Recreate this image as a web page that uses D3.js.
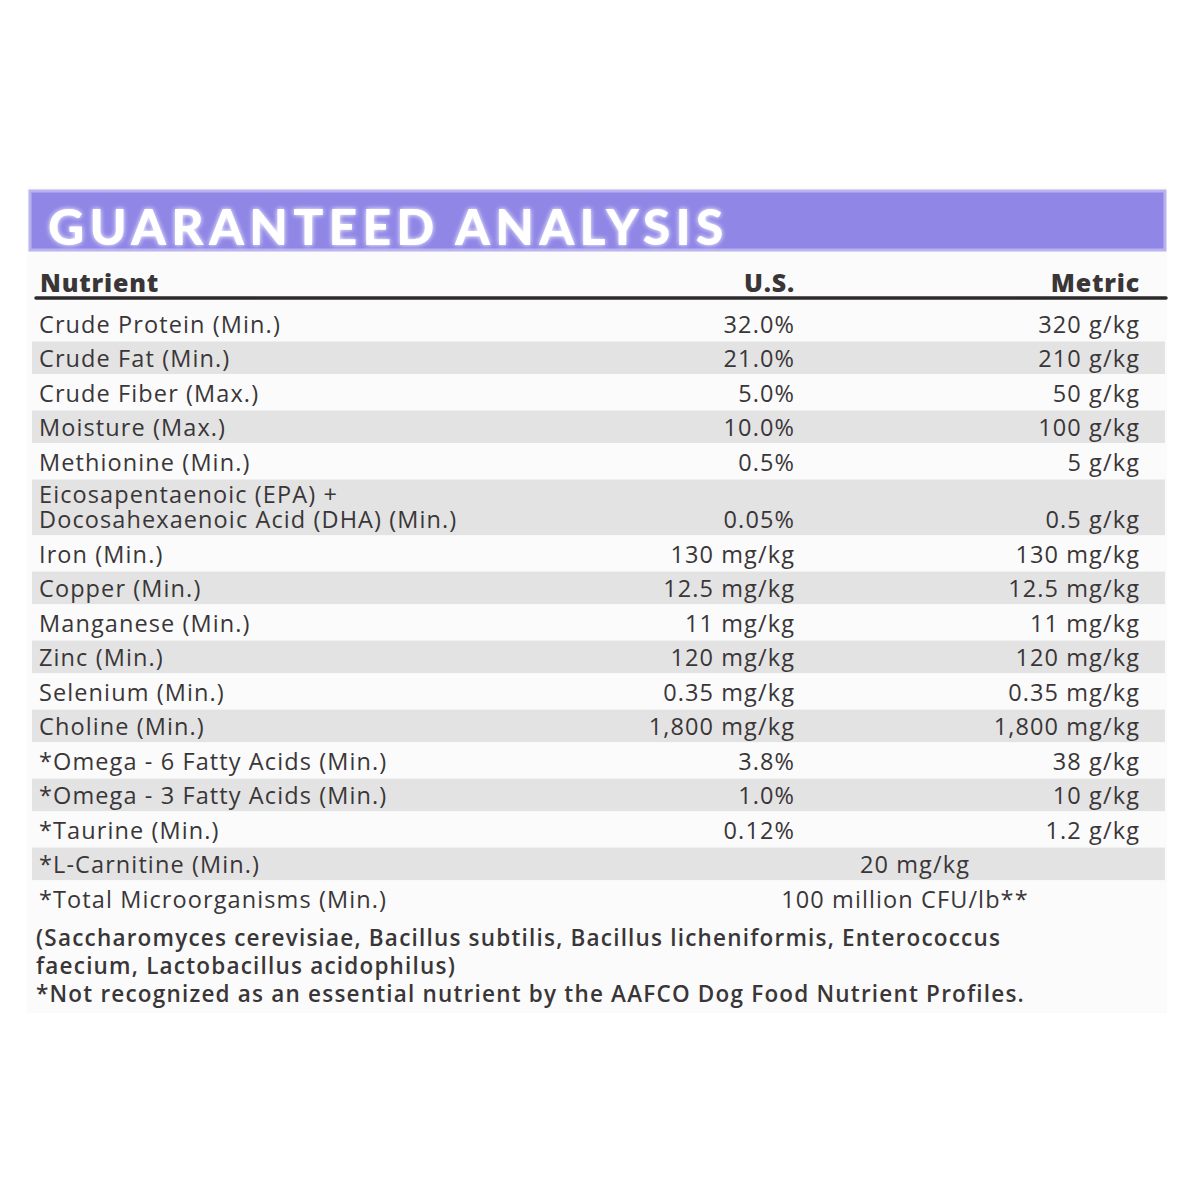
<!DOCTYPE html>
<html><head><meta charset="utf-8">
<script src="https://cdn.jsdelivr.net/npm/d3@7"></script>
<style>body{margin:0;background:#fff}</style>
</head><body>
<div id="chart"></div>
<script>
// table contents
const nutrients = ["Crude Protein (Min.)","Crude Fat (Min.)","Crude Fiber (Max.)","Moisture (Max.)","Methionine (Min.)",
  "Eicosapentaenoic (EPA) +|Docosahexaenoic Acid (DHA) (Min.)","Iron (Min.)","Copper (Min.)","Manganese (Min.)","Zinc (Min.)",
  "Selenium (Min.)","Choline (Min.)","*Omega - 6 Fatty Acids (Min.)","*Omega - 3 Fatty Acids (Min.)","*Taurine (Min.)",
  "*L-Carnitine (Min.)","*Total Microorganisms (Min.)"];
const usValues = ["32.0%","21.0%","5.0%","10.0%","0.5%","0.05%","130 mg/kg","12.5 mg/kg","11 mg/kg","120 mg/kg",
  "0.35 mg/kg","1,800 mg/kg","3.8%","1.0%","0.12%","",""];
const metricValues = ["320 g/kg","210 g/kg","50 g/kg","100 g/kg","5 g/kg","0.5 g/kg","130 mg/kg","12.5 mg/kg","11 mg/kg",
  "120 mg/kg","0.35 mg/kg","1,800 mg/kg","38 g/kg","10 g/kg","1.2 g/kg","",""];
const spanValues = ["","","","","","","","","","","","","","","","20 mg/kg","100 million CFU/lb**"];
const rowUnits = [1,1,1,1,1,1.67,1,1,1,1,1,1,1,1,1,1,1];
const footnotes = ["(Saccharomyces cerevisiae, Bacillus subtilis, Bacillus licheniformis, Enterococcus",
  "faecium, Lactobacillus acidophilus)",
  "*Not recognized as an essential nutrient by the AAFCO Dog Food Nutrient Profiles."];

const W = 1200, H = 1200;
const svg = d3.select("#chart").append("svg").attr("width", W).attr("height", H);
const font = "'Open Sans', sans-serif";
const ink = "#3a3638";

// panel
svg.append("rect").attr("x", 27).attr("y", 187).attr("width", 1140).attr("height", 826).attr("fill", "#fbfbfc");
svg.append("rect").attr("x", 30).attr("y", 191).attr("width", 1135).attr("height", 59)
  .attr("fill", "#8f86e6").attr("stroke", "#b9b3f0").attr("stroke-width", 3);
const defs = svg.append("defs");
const glow = defs.append("filter").attr("id", "glow");
glow.append("feGaussianBlur").attr("stdDeviation", 2.5).attr("result", "b");
const m = glow.append("feMerge");
m.append("feMergeNode").attr("in", "b");
m.append("feMergeNode").attr("in", "SourceGraphic");
svg.append("text").attr("x", 48).attr("y", 245).text("GUARANTEED ANALYSIS")
  .attr("font-family", "Lato, sans-serif").attr("font-weight", 900).attr("font-size", 50)
  .attr("letter-spacing", 5.2).attr("fill", "#fff").attr("filter", "url(#glow)");

// header row
const head = [["Nutrient", 40, "start"], ["U.S.", 795, "end"], ["Metric", 1140, "end"]];
svg.selectAll(".hd").data(head).enter().append("text")
  .attr("x", d => d[1]).attr("y", 292).attr("text-anchor", d => d[2]).text(d => d[0])
  .attr("font-family", font).attr("font-weight", 800).attr("font-size", 25).attr("letter-spacing", 0.8).attr("fill", ink);
svg.append("line").attr("x1", 36).attr("x2", 1166).attr("y1", 298).attr("y2", 298)
  .attr("stroke", "#2e2a2c").attr("stroke-width", 3.5).attr("stroke-linecap", "round");

// rows on a cumulative scale
const cum = [0];
rowUnits.forEach(u => cum.push(cum[cum.length - 1] + u));
const y = d3.scaleLinear().domain([0, cum[cum.length - 1]]).range([306, 306 + 34.5 * cum[cum.length - 1]]);
const rows = nutrients.map((n, i) => ({n, us: usValues[i], me: metricValues[i], sp: spanValues[i], y0: y(cum[i]), y1: y(cum[i + 1]), i}));

const g = svg.append("g").selectAll("g").data(rows).enter().append("g");
g.filter(d => d.i % 2 === 1).append("rect")
  .attr("x", 32).attr("width", 1133).attr("y", d => d.y0 + 1).attr("height", d => d.y1 - d.y0 - 2)
  .attr("fill", "#e3e3e3");
const txt = (sel) => sel.attr("font-family", font).attr("font-size", 23.5).attr("letter-spacing", 1.1).attr("fill", ink);
g.each(function(d) {
  const s = d3.select(this);
  const base = d.y1 - 8;
  const lines = d.n.split("|");
  lines.forEach((l, k) => txt(s.append("text")).attr("x", 39).attr("y", base - (lines.length - 1 - k) * 25).text(l));
  if (d.us) txt(s.append("text")).attr("x", 795).attr("y", base).attr("text-anchor", "end").text(d.us);
  if (d.me) txt(s.append("text")).attr("x", 1140).attr("y", base).attr("text-anchor", "end").text(d.me);
  if (d.sp) txt(s.append("text")).attr("x", d.i === 15 ? 915 : 905).attr("y", base).attr("text-anchor", "middle").text(d.sp);
});

// footnotes
svg.selectAll(".fn").data(footnotes).enter().append("text")
  .attr("x", 36).attr("y", (d, i) => 946 + i * 28).text(d => d)
  .attr("font-family", font).attr("font-size", 22.5).attr("font-weight", 600).attr("fill", ink).attr("letter-spacing", 1.2);
</script>
</body></html>
